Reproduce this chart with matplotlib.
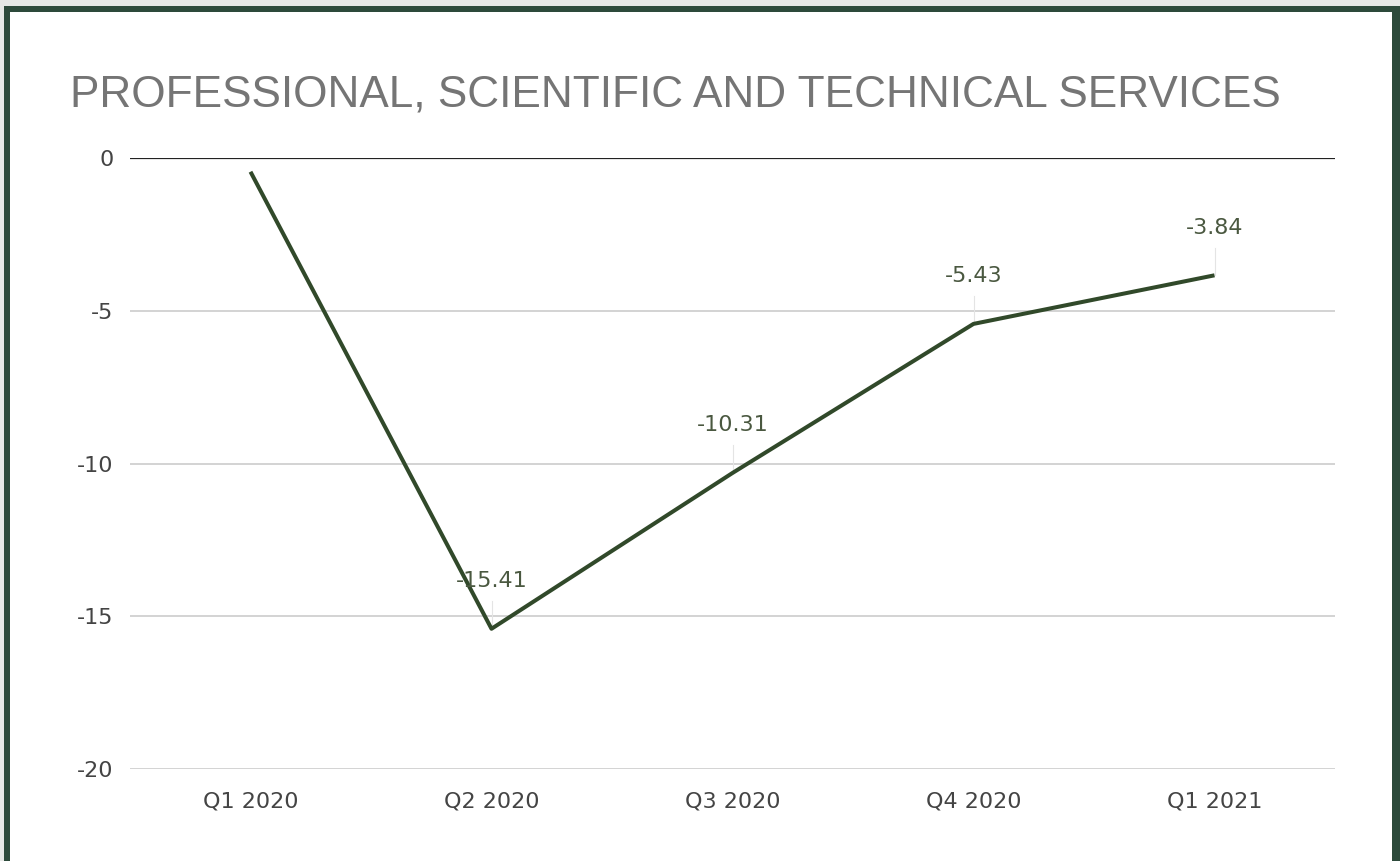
import matplotlib.pyplot as plt
from matplotlib.patches import Rectangle

plt.rcParams['font.family'] = ['DejaVu Sans']

quarters = ["Q1 2020", "Q2 2020", "Q3 2020", "Q4 2020", "Q1 2021"]
values = [-0.45, -15.41, -10.31, -5.43, -3.84]
shown_labels = [None, "-15.41", "-10.31", "-5.43", "-3.84"]
yticks = [0, -5, -10, -15, -20]

line_color = "#31492a"
label_color = "#4a5840"
border_color = "#2d4a3b"

fig = plt.figure(figsize=(14, 8.61), dpi=100)
fig.patch.set_facecolor("white")

# frame around the picture
W, H = 1400, 861
fig.patches.append(Rectangle((0, 1 - 6 / H), 1, 6 / H, transform=fig.transFigure,
                             facecolor="#e6e8e6", edgecolor="none", zorder=0))
fig.patches.append(Rectangle((0, 0), 4 / W, 1, transform=fig.transFigure,
                             facecolor="#e6e8e6", edgecolor="none", zorder=0))
fig.patches.append(Rectangle((4 / W, 0), 6 / W, 1 - 6 / H, transform=fig.transFigure,
                             facecolor=border_color, edgecolor="none", zorder=1))
fig.patches.append(Rectangle((1392 / W, 0), 8 / W, 1 - 6 / H, transform=fig.transFigure,
                             facecolor=border_color, edgecolor="none", zorder=1))
fig.patches.append(Rectangle((4 / W, 1 - 12 / H), 1396 / W, 6 / H, transform=fig.transFigure,
                             facecolor=border_color, edgecolor="none", zorder=1))

ax = fig.add_axes([130 / W, 1 - 769 / H, 1205 / W, 611 / H])
x = list(range(len(quarters)))
ax.plot(x, values, color=line_color, lw=2.9, solid_capstyle="butt", zorder=3)

for xi, v, lab in zip(x, values, shown_labels):
    if lab is None:
        continue
    ax.plot([xi, xi], [v, v + 0.9], color="#e4e4e4", lw=0.8, zorder=2)
    ax.annotate(lab, (xi, v), xytext=(0, 27), textcoords="offset points",
                ha="center", va="bottom", fontsize=16, color=label_color, zorder=4)

ax.set_xlim(-0.5, len(quarters) - 0.5)
ax.set_ylim(-20, 0)
ax.set_yticks(yticks)
ax.set_yticklabels([str(t) for t in yticks])
ax.set_xticks(x)
ax.set_xticklabels(quarters)
ax.tick_params(length=0, labelsize=16, labelcolor="#444444")
ax.tick_params(axis="y", pad=12)
ax.tick_params(axis="x", pad=16)
for s in ax.spines.values():
    s.set_visible(False)
for t in yticks[1:]:
    ax.axhline(t, color="#cccccc", lw=1.2, zorder=1)
ax.axhline(0, color="#222222", lw=1.6, zorder=2)

fig.text(70 / W, 1 - 107 / H, "PROFESSIONAL, SCIENTIFIC AND TECHNICAL SERVICES",
         fontsize=31.8, color="#757575", ha="left", va="baseline",
         family=["Liberation Sans", "DejaVu Sans"])

fig.savefig("out.png", dpi=100)
